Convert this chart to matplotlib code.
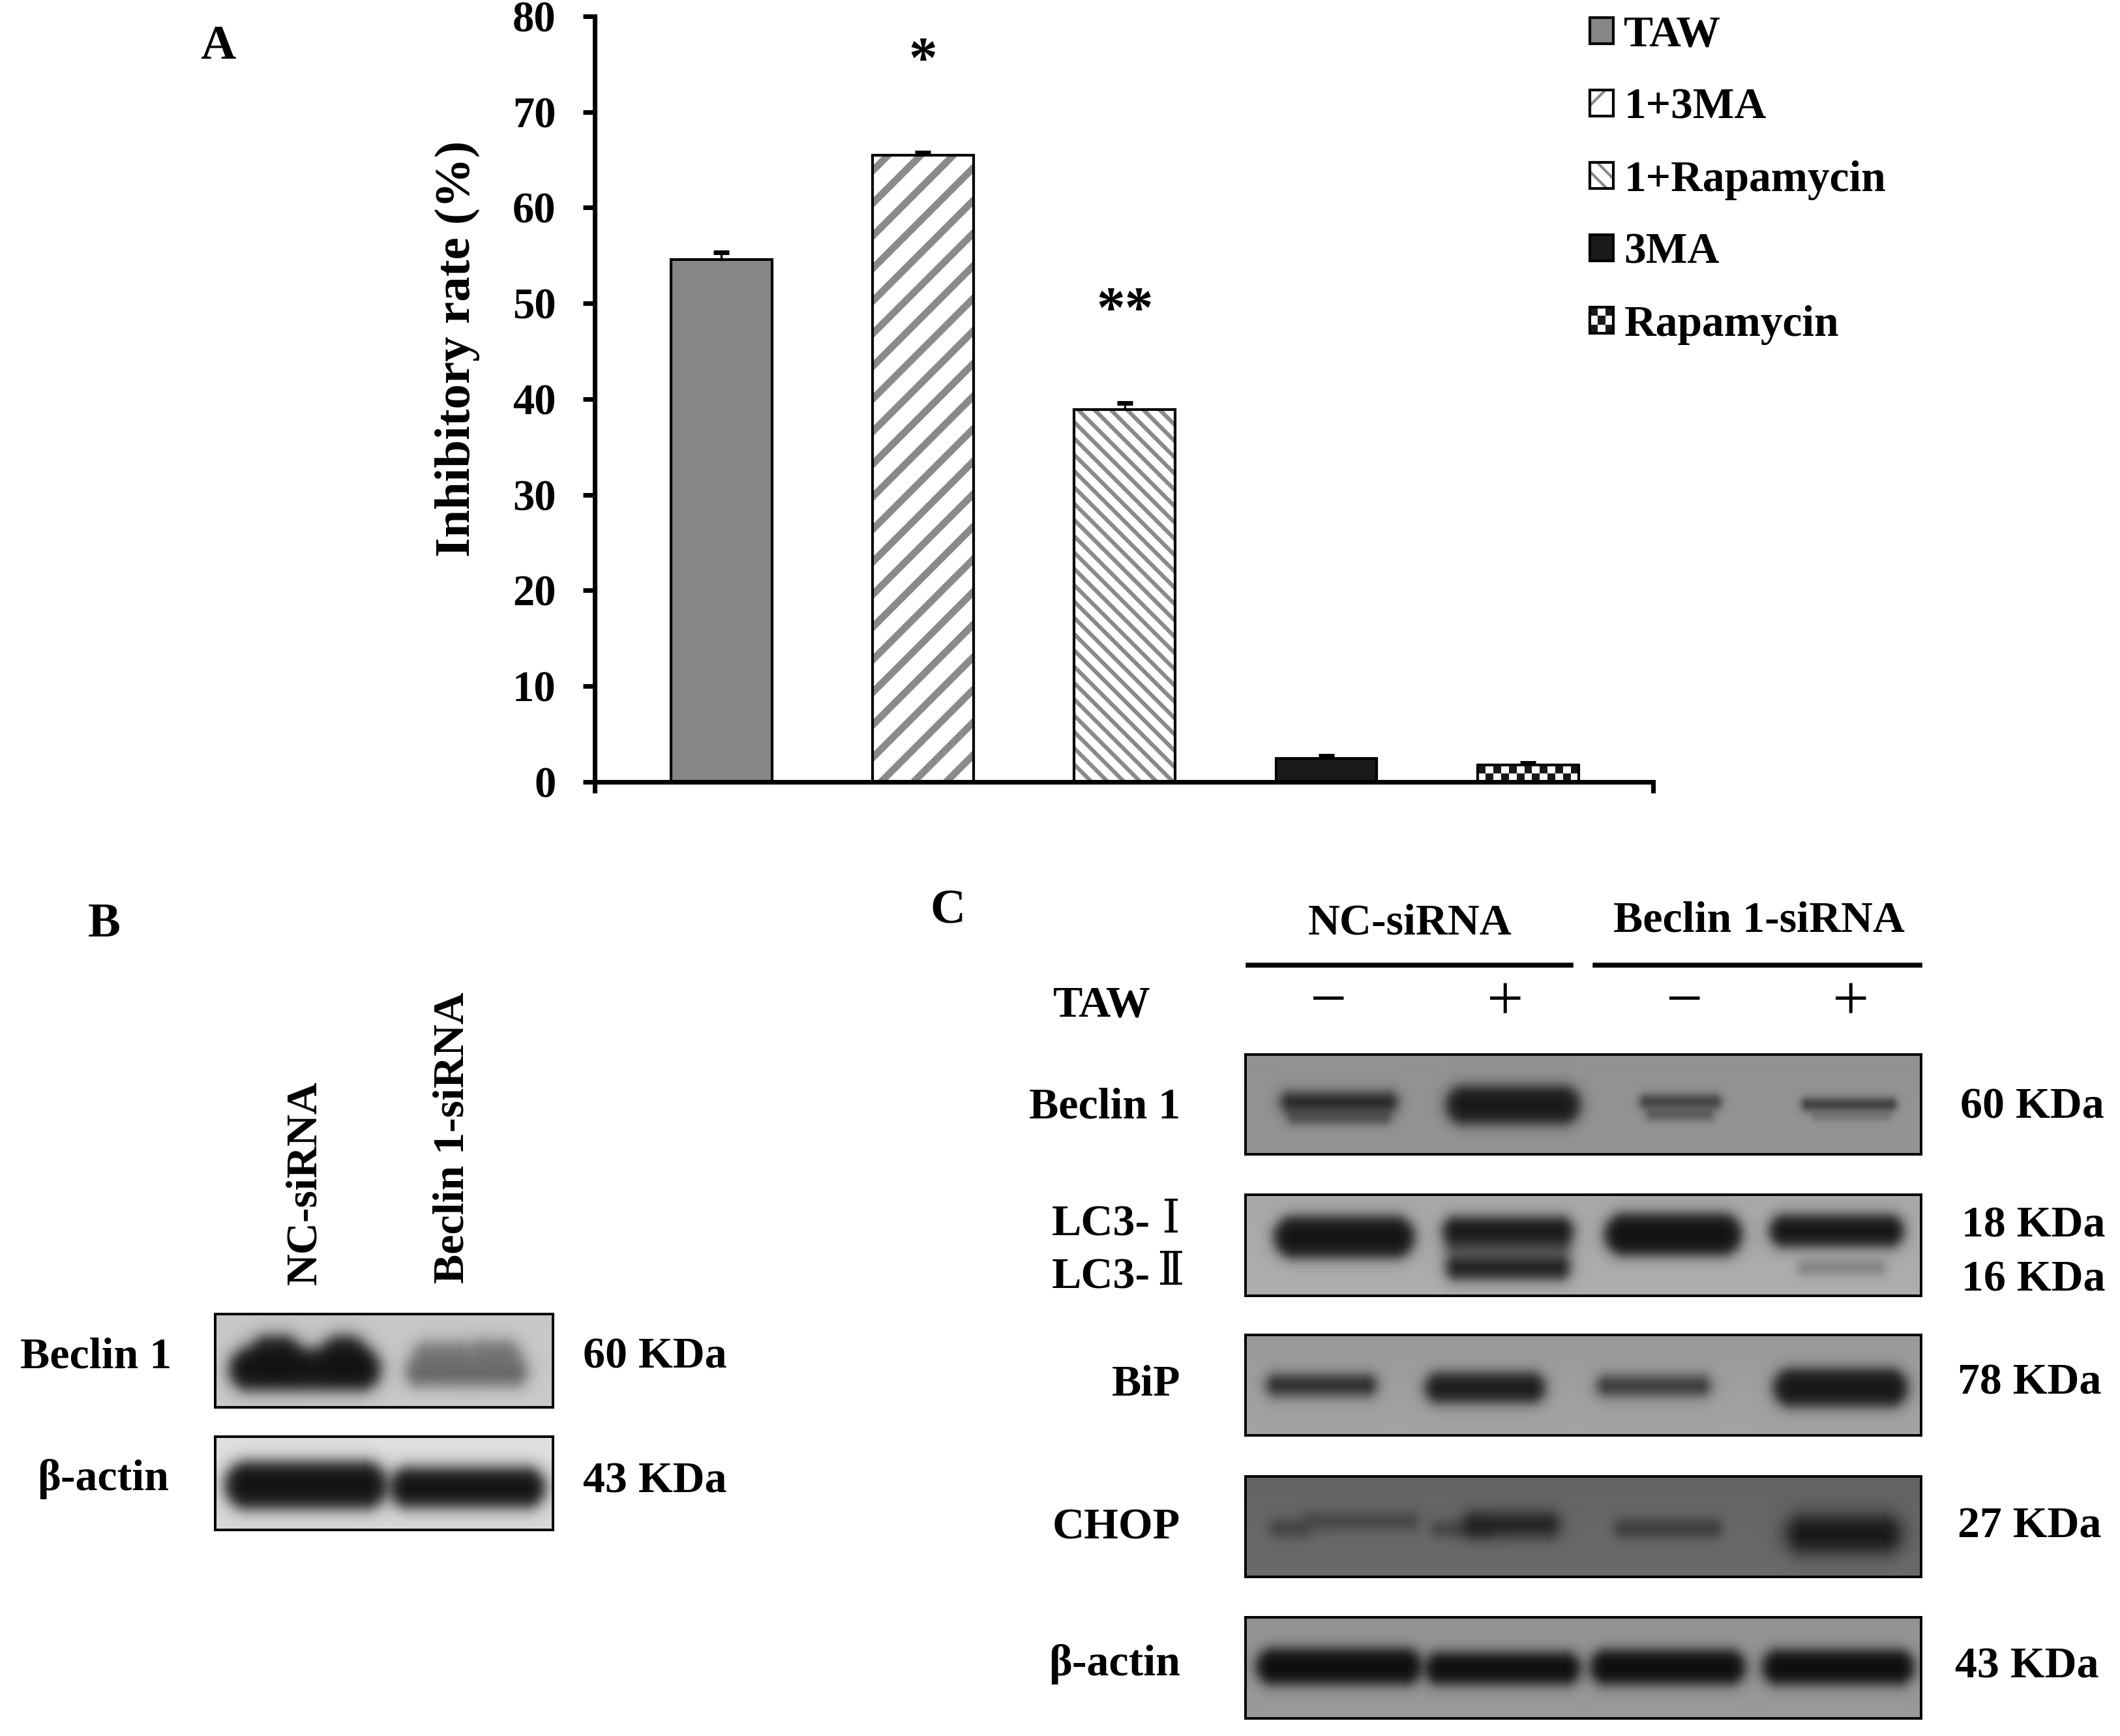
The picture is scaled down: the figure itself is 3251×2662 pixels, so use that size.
import numpy as np
import matplotlib
matplotlib.use("Agg")
import matplotlib.pyplot as plt
from matplotlib.colors import to_rgba
from matplotlib.legend_handler import HandlerBase
from matplotlib.lines import Line2D
from matplotlib.patches import Rectangle

# Data
groups = ["TAW", "1+3MA", "1+Rapamycin", "3MA", "Rapamycin"]
rates = [54.6, 65.5, 38.9, 2.45, 1.75]
errors = [0.7, 0.25, 0.7, 0.3, 0.25]
stars = ["", "*", "**", "", ""]
star_y = [0, 75.2, 49.1, 0, 0]
y_ticks = [0, 10, 20, 30, 40, 50, 60, 70, 80]

# Blot labels
b_lanes = ["NC-siRNA", "Beclin 1-siRNA"]
c_proteins = ["Beclin 1", "BiP", "CHOP", "β-actin"]
c_masses = ["60 KDa", "18 KDa", "16 KDa", "78 KDa", "27 KDa", "43 KDa"]
taw_signs = ["−", "+", "−", "+"]

# Bands: x0, x1, y0, y1 in picture pixels, then grey level
b_beclin = [(385, 460, 2048, 2105, 0.14), (495, 560, 2048, 2105, 0.14), (352, 583, 2068, 2132, 0.07),
            (635, 725, 2058, 2102, 0.46), (718, 797, 2055, 2102, 0.46), (624, 807, 2084, 2125, 0.40)]
b_actin = [(345, 594, 2241, 2314, 0.07), (598, 836, 2250, 2312, 0.07)]
c_beclin = [(1975, 2132, 1702, 1724, 0.33), (1965, 2142, 1676, 1705, 0.14),
            (2218, 2423, 1666, 1724, 0.10),
            (2525, 2628, 1700, 1718, 0.36), (2515, 2639, 1680, 1700, 0.25),
            (2779, 2898, 1704, 1718, 0.46), (2763, 2908, 1685, 1703, 0.24)]
c_lc3 = [(1954, 2169, 1865, 1929, 0.08),
         (2218, 2407, 1900, 1930, 0.38), (2213, 2412, 1866, 1910, 0.09), (2218, 2407, 1926, 1962, 0.12),
         (2461, 2671, 1861, 1925, 0.07),
         (2714, 2919, 1863, 1912, 0.08), (2757, 2892, 1932, 1955, 0.52)]
c_bip = [(1943, 2110, 2108, 2140, 0.17), (2186, 2369, 2105, 2151, 0.11),
         (2450, 2622, 2110, 2140, 0.22), (2720, 2925, 2099, 2157, 0.09)]
c_chop = [(1948, 2010, 2331, 2357, 0.27), (2000, 2175, 2320, 2346, 0.28),
          (2196, 2290, 2333, 2357, 0.28), (2245, 2390, 2321, 2356, 0.13),
          (2477, 2639, 2331, 2357, 0.24), (2741, 2914, 2326, 2380, 0.08)]
c_actin = [(1927, 2180, 2528, 2583, 0.05), (2186, 2423, 2534, 2583, 0.05),
           (2439, 2676, 2530, 2583, 0.05), (2703, 2935, 2530, 2583, 0.05)]

W, H = 3251, 2662
DPI = 300
plt.rcParams.update({
    "font.family": ["Liberation Serif", "DejaVu Serif"],
    "font.weight": "bold",
    "axes.labelweight": "bold",
})

fig = plt.figure(figsize=(W / DPI, H / DPI), dpi=DPI)


def px_axes(x0, y0, x1, y1):
    return fig.add_axes([x0 / W, 1 - y1 / H, (x1 - x0) / W, (y1 - y0) / H])


def label(x, y, s, size=16.3, ha="left", **kw):
    fig.text(x / W, 1 - (y + 6) / H, s, fontsize=size, ha=ha, va="center", **kw)


def draw_blot(x0, y0, x1, y1, top, bottom, bands, soft=6.0):
    xs, ys = np.meshgrid(np.arange(x0, x1) + 0.5, np.arange(y0, y1) + 0.5)
    img = top + (bottom - top) * (ys - y0) / (y1 - y0)
    for bx0, bx1, by0, by1, grey in bands:
        a, b = (bx1 - bx0) / 2, (by1 - by0) / 2
        dx = np.maximum(np.abs(xs - (bx0 + bx1) / 2) - (a - b), 0)
        dy = np.abs(ys - (by0 + by1) / 2)
        dist = np.hypot(dx, dy) - b
        alpha = 1 / (1 + np.exp(dist / min(soft, b / 2.5)))
        img = img * (1 - alpha) + grey * alpha
    ax = px_axes(x0, y0, x1, y1)
    ax.imshow(img, cmap="gray", vmin=0, vmax=1, aspect="auto")
    ax.set_xticks([])
    ax.set_yticks([])
    for sp in ax.spines.values():
        sp.set_linewidth(0.95)


class HandlerChecker(HandlerBase):
    def create_artists(self, legend, orig_handle, xdescent, ydescent, width, height, fontsize, trans):
        arts = []
        for i in range(3):
            for j in range(3):
                cell = Rectangle((-xdescent + i * width / 3, -ydescent + j * height / 3), width / 3, height / 3,
                                 facecolor="#1a1a1a" if (i + j) % 2 == 0 else "white", edgecolor="none",
                                 transform=trans)
                arts.append(cell)
        arts.append(Rectangle((-xdescent, -ydescent), width, height, facecolor="none", edgecolor="black",
                              linewidth=1.0, transform=trans))
        return arts


# Panel A
ax = px_axes(912, 25, 2535, 1199)
positions = np.arange(len(groups))
faces = ["#868686", "white", "white", "#1a1a1a", "none"]
hatches = [None, "//", "\\\\\\\\", None, None]
hatch_widths = [1.0, 2.6, 1.5, 1.0, 1.0]
patches = []
for i in positions:
    plt.rcParams["hatch.linewidth"] = hatch_widths[i]
    bar = ax.bar(positions[i], rates[i], width=0.5, linewidth=1.0, facecolor=faces[i], edgecolor="black",
                 hatch=hatches[i], zorder=3 if i == 4 else 1)
    # grey stripes inside a black outline
    bar.patches[0]._hatch_color = to_rgba("#8a8a8a")
    patches.append(bar.patches[0])

# checker fill of the last bar
p = patches[4]
checker = np.indices((2, 13)).sum(axis=0) % 2 * 0.9 + 0.1
ax.imshow(checker, cmap="gray", vmin=0, vmax=1, aspect="auto", interpolation="nearest", zorder=2,
          extent=[p.get_x(), p.get_x() + p.get_width(), 0, p.get_height()])

_, caps, _ = ax.errorbar(positions, rates, yerr=[np.zeros(len(rates)), errors], fmt="none", ecolor="black",
                         elinewidth=0.8, capsize=2.8, capthick=1.7, zorder=4)
caps[0].set_visible(False)

for i, s in enumerate(stars):
    if s:
        ax.text(positions[i], star_y[i], s, fontsize=21, ha="center", va="center")

ax.set_xlim(-0.628, 4.62)
ax.set_ylim(0, 80)
ax.set_yticks(y_ticks)
ax.set_xticks([-0.628, 4.62])
ax.set_xticklabels(["", ""])
ax.tick_params(axis="y", direction="out", length=4.3, width=1.7, pad=10, labelsize=16)
ax.tick_params(axis="x", direction="out", length=4.0, width=1.7)
ax.spines["top"].set_visible(False)
ax.spines["right"].set_visible(False)
ax.spines["left"].set_linewidth(1.7)
ax.spines["bottom"].set_linewidth(1.7)
ax.set_ylabel("Inhibitory rate (%)", fontsize=18.5, va="center")
ax.yaxis.set_label_coords(-0.130, 0.566)

fig.legend(patches, groups, loc="upper left", bbox_to_anchor=(2438 / W, 1 - 24 / H), frameon=False, fontsize=16.2,
           borderpad=0, borderaxespad=0, handlelength=0.535, handleheight=0.535, handletextpad=0.24,
           labelspacing=0.74, handler_map={patches[4]: HandlerChecker()})

# Panel B
draw_blot(330, 2015, 848, 2158, 0.78, 0.79, b_beclin, soft=7.0)
draw_blot(330, 2203, 848, 2346, 0.88, 0.85, b_actin, soft=7.0)
label(147, 2075, "Beclin 1", ha="center")
label(259, 2262, "β-actin", ha="right")
label(894, 2075, "60 KDa")
label(894, 2266, "43 KDa")
label(468, 1808, b_lanes[0], ha="center", rotation=90)
label(694, 1739, b_lanes[1], ha="center", rotation=90)

# Panel C
draw_blot(1910, 1617, 2946, 1770, 0.57, 0.58, c_beclin)
draw_blot(1910, 1832, 2946, 1987, 0.66, 0.68, c_lc3)
draw_blot(1910, 2047, 2946, 2201, 0.60, 0.64, c_bip)
draw_blot(1910, 2264, 2946, 2418, 0.39, 0.42, c_chop, soft=9.0)
draw_blot(1910, 2480, 2946, 2635, 0.58, 0.60, c_actin)

label(2162, 1410, "NC-siRNA", ha="center")
label(2697, 1406, "Beclin 1-siRNA", ha="center")
for x0, x1 in [(1914, 2409), (2446, 2944)]:
    fig.add_artist(Line2D([x0 / W, x1 / W], [1 - 1480 / H, 1 - 1480 / H], color="black", linewidth=1.8))
label(1690, 1536, "TAW", ha="center")
for x, s in zip([2036, 2308, 2582, 2838], taw_signs):
    label(x, 1534, s, size=24, ha="center", fontweight="normal")

for y, s in zip([1692, 2117, 2337, 2546], c_proteins):
    label(1810, y, s, ha="right")
label(1613, 1872, "LC3-")
label(1613, 1953, "LC3-")
label(1795, 1864, "Ⅰ", size=17, ha="center", fontweight="normal", family="DejaVu Serif")
label(1795, 1945, "Ⅱ", size=17, ha="center", fontweight="normal", family="DejaVu Serif")
for (x, y), s in zip([(3006, 1692), (3008, 1874), (3008, 1957), (3002, 2115), (3002, 2335), (2998, 2550)], c_masses):
    label(x, y, s)

label(334, 66, "A", size=18, ha="center")
label(160, 1412, "B", size=18, ha="center")
label(1453, 1391, "C", size=18, ha="center")

fig.savefig("out.png", dpi=DPI)
